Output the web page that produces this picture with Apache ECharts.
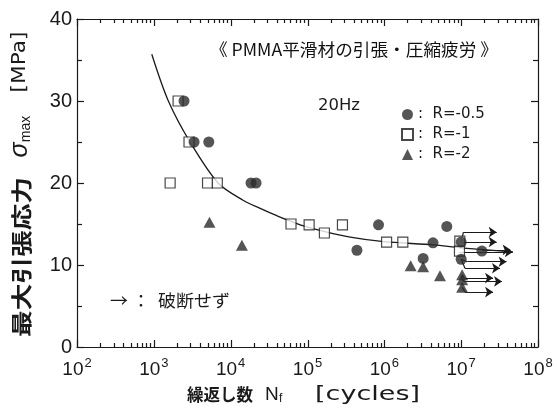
<!DOCTYPE html>
<html>
<head>
<meta charset="utf-8">
<script src="https://cdn.jsdelivr.net/npm/echarts@6/dist/echarts.min.js"></script>
<style>
html, body { margin: 0; padding: 0; background: #fff; }
#chart { width: 557px; height: 414px; }
</style>
</head>
<body>
<div id="chart"></div>
<script>
// Axis ticks
const xTickExponents = [2, 3, 4, 5, 6, 7, 8];
const yTicks = [0, 10, 20, 30, 40];

// R = -0.5 (filled circles): cycles to failure, max stress [MPa]
const circleN = [2470, 5190, 3340, 18400, 21400, 4.4e5, 8.4e5, 4.3e6, 6.5e6, 3.2e6, 1.0e7, 1.0e7, 1.86e7];
const circleS = [30.0, 25.0, 25.0, 20.0, 20.0, 11.8, 14.9, 12.7, 14.7, 10.8, 12.8, 10.7, 11.7];

// R = -1 (open squares)
const squareN = [2070, 2870, 1630, 5000, 6700, 61000, 1.05e5, 1.66e5, 2.85e5, 1.07e6, 1.74e6, 9.5e6, 9.6e6];
const squareS = [30.0, 25.0, 20.0, 20.0, 20.0, 15.0, 14.9, 13.9, 14.9, 12.8, 12.8, 11.7, 12.9];

// R = -2 (filled triangles)
const triN = [5300, 14000, 2.2e6, 3.2e6, 5.3e6, 1.03e7, 1.03e7, 1.03e7];
const triS = [15.2, 12.4, 9.9, 9.8, 8.7, 8.8, 8.2, 7.3];

// Fitted S-N curve
const curveN = [940, 1530, 2960, 6850, 14500, 24200, 40200, 54200, 80100, 1.64e5, 3.6e5, 9.8e5, 4.4e6, 9.8e6, 4.7e7];
const curveS = [35.7, 30.1, 25.0, 20.0, 17.9, 16.9, 16.0, 15.5, 14.9, 14.1, 13.4, 12.85, 12.45, 12.1, 11.6];

// Run-outs (no failure): start point, bend point, arrow tip
const runStartN = [1.0e7, 1.0e7, 9.5e6, 1.86e7, 1.0e7, 1.0e7, 1.03e7, 1.03e7, 1.03e7];
const runStartS = [12.8, 12.8, 11.6, 11.85, 10.7, 10.7, 8.8, 8.2, 7.3];
const runBendN  = [1.07e7, 1.07e7, 1.0e7, 1.9e7, 1.2e7, 1.12e7, 1.1e7, 1.1e7, 1.12e7];
const runLevelS = [14.0, 12.8, 11.6, 11.85, 10.4, 9.6, 8.4, 8.0, 6.7];
const runEndN   = [2.9e7, 2.9e7, 4.7e7, 4.4e7, 3.9e7, 3.2e7, 2.6e7, 3.4e7, 2.6e7];

const INK = '#1a1a1a';
const MARK = '#2b2b2b';
const LATIN = '"Liberation Sans", "DejaVu Sans", sans-serif';

const pairs = (xs, ys) => xs.map((x, i) => [x, ys[i]]);

const xMin = Math.pow(10, xTickExponents[0]);
const xMax = Math.pow(10, xTickExponents[xTickExponents.length - 1]);
const yMin = yTicks[0];
const yMax = yTicks[yTicks.length - 1];

// run-out arrows: short bend from the data point, then a horizontal arrow
const runoutBends = runStartN.map((n, i) => ({ coords: [[n, runStartS[i]], [runBendN[i], runLevelS[i]]] }));
const runoutShafts = runStartN.map((n, i) => ({ coords: [[runBendN[i], runLevelS[i]], [runEndN[i], runLevelS[i]]] }));

// text width helper for stretching labels to their layout span
const measureCtx = document.createElement('canvas').getContext('2d');
function textWidth(text, font) { measureCtx.font = font; return measureCtx.measureText(text).width; }
function fitScale(text, font, width) { return width / textWidth(text, font); }

const chart = echarts.init(document.getElementById('chart'), null, { renderer: 'canvas' });

const titleText = '《 PMMA平滑材の引張・圧縮疲労 》';
const titleFont = '17px "Noto Sans CJK JP"';
const noteText = '→ ：  破断せず';
const noteFont = '17px "Noto Sans CJK JP"';
const hzFont = '16px "DejaVu Sans"';

const yTitleCjkFont = 'bold 21px "Noto Sans CJK JP"';
const yUnitFont = '20px "DejaVu Sans"';
const sigmaFont = 'italic 25px "Liberation Sans"';
const maxFont = '14px "Liberation Sans"';
const xTitleCjkFont = 'bold 17px "Noto Sans CJK JP"';
const xUnitFont = '20px "DejaVu Sans"';

const axisCommon = {
  axisLine: { show: true, onZero: false, lineStyle: { color: INK, width: 1.2 } },
  axisTick: { show: false },
  minorTick: { show: false },
  splitLine: { show: false }
};

const option = {
  animation: false,
  backgroundColor: '#fff',
  grid: { left: 77, right: 19, top: 19, bottom: 67 },
  xAxis: [
    Object.assign({
      type: 'log', logBase: 10, min: xMin, max: xMax, splitNumber: 6,
      axisLabel: {
        margin: 10,
        formatter: v => '{a|10}{b|' + Math.round(Math.log10(v)) + '}',
        rich: {
          a: { fontFamily: LATIN, fontSize: 19, color: INK },
          b: { fontFamily: LATIN, fontSize: 13, color: INK, padding: [0, 0, 12, 1] }
        }
      }
    }, axisCommon),
    Object.assign({
      type: 'log', logBase: 10, min: xMin, max: xMax, splitNumber: 6, position: 'top',
      axisLabel: { show: false }
    }, axisCommon)
  ],
  yAxis: [
    Object.assign({
      type: 'value', min: yMin, max: yMax, interval: yTicks[1] - yTicks[0],
      axisLabel: { margin: 5, fontFamily: LATIN, fontSize: 20, color: INK }
    }, axisCommon),
    Object.assign({
      type: 'value', min: yMin, max: yMax, interval: yTicks[1] - yTicks[0], position: 'right',
      axisLabel: { show: false }
    }, axisCommon)
  ],
  legend: {
    orient: 'vertical', left: 396, top: 102,
    itemWidth: 11, itemHeight: 11, itemGap: 5,
    selectedMode: false,
    data: ['R=-0.5', 'R=-1', 'R=-2'],
    formatter: name => ':  ' + name,
    textStyle: { fontFamily: '"DejaVu Sans"', fontSize: 15, color: INK, lineHeight: 14 }
  },
  series: [
    {
      type: 'line', name: 'curve', data: pairs(curveN, curveS), smooth: 0.3,
      showSymbol: false, symbol: 'none', z: 2,
      lineStyle: { color: INK, width: 1.3 }
    },
    {
      type: 'lines', name: 'runoutBend', coordinateSystem: 'cartesian2d', z: 2,
      symbol: ['none', 'none'],
      lineStyle: { color: INK, width: 1.2, opacity: 1 },
      data: runoutBends
    },
    {
      type: 'lines', name: 'runout', coordinateSystem: 'cartesian2d', z: 2,
      symbol: ['none', 'arrow'], symbolSize: 8,
      lineStyle: { color: INK, width: 1.2, opacity: 1 },
      data: runoutShafts
    },
    {
      type: 'scatter', name: 'R=-1', data: pairs(squareN, squareS),
      symbol: 'rect', symbolSize: 10, z: 3,
      itemStyle: { color: '#fff', borderColor: INK, borderWidth: 1.2 }
    },
    {
      type: 'scatter', name: 'R=-0.5', data: pairs(circleN, circleS),
      symbol: 'circle', symbolSize: 11, z: 4,
      itemStyle: { color: MARK }
    },
    {
      type: 'scatter', name: 'R=-2', data: pairs(triN, triS),
      symbol: 'triangle', symbolSize: [12, 11], z: 4,
      itemStyle: { color: MARK }
    }
  ]
};

chart.setOption(option);

// Inward tick marks on all four frame edges, placed through the chart's own axis scales
const toPx = (n, s) => chart.convertToPixel({ xAxisIndex: 0, yAxisIndex: 0 }, [n, s]);
const tickStyle = { stroke: INK, lineWidth: 1.2 };
const tickLines = [];
function addXTick(v, len) {
  const x = Math.round(toPx(v, yMin)[0]) + 0.5;
  const yb = toPx(v, yMin)[1];
  const yt = toPx(v, yMax)[1];
  tickLines.push({ type: 'line', shape: { x1: x, y1: yb, x2: x, y2: yb - len }, style: tickStyle });
  tickLines.push({ type: 'line', shape: { x1: x, y1: yt, x2: x, y2: yt + len }, style: tickStyle });
}
function addYTick(v, len) {
  const y = Math.round(toPx(xMin, v)[1]) + 0.5;
  const xl = toPx(xMin, v)[0];
  const xr = toPx(xMax, v)[0];
  tickLines.push({ type: 'line', shape: { x1: xl, y1: y, x2: xl + len, y2: y }, style: tickStyle });
  tickLines.push({ type: 'line', shape: { x1: xr, y1: y, x2: xr - len, y2: y }, style: tickStyle });
}
for (let e = xTickExponents[0]; e <= xTickExponents[xTickExponents.length - 1]; e++) {
  addXTick(Math.pow(10, e), 7);
  if (e < xTickExponents[xTickExponents.length - 1]) {
    for (let m = 2; m <= 9; m++) addXTick(m * Math.pow(10, e), 4);
  }
}
yTicks.forEach((v, i) => {
  addYTick(v, 7);
  if (i < yTicks.length - 1) addYTick((v + yTicks[i + 1]) / 2, 5);
});

chart.setOption({
  graphic: [
    { type: 'group', silent: true, z: 10, children: tickLines },
    {
      type: 'text', x: 354, y: 50, scaleX: fitScale(titleText, titleFont, 288),
      style: { text: titleText, font: titleFont, fill: '#111', align: 'center', verticalAlign: 'middle' }
    },
    {
      type: 'text', x: 318, y: 106, scaleX: fitScale('20Hz', hzFont, 42),
      style: { text: '20Hz', font: hzFont, fill: INK, align: 'left', verticalAlign: 'middle' }
    },
    {
      type: 'text', x: 110, y: 301, scaleX: fitScale(noteText, noteFont, 120),
      style: { text: noteText, font: noteFont, fill: INK, align: 'left', verticalAlign: 'middle' }
    },
    // vertical axis title
    {
      type: 'text', x: 21, y: 257, rotation: Math.PI / 2, scaleX: fitScale('最大引張応力', yTitleCjkFont, 160),
      style: { text: '最大引張応力', font: yTitleCjkFont, fill: INK, align: 'center', verticalAlign: 'middle' }
    },
    {
      type: 'text', x: 20, y: 150, rotation: Math.PI / 2,
      style: { text: 'σ', font: sigmaFont, fill: INK, align: 'center', verticalAlign: 'middle' }
    },
    {
      type: 'text', x: 26, y: 129, rotation: Math.PI / 2,
      style: { text: 'max', font: maxFont, fill: INK, align: 'center', verticalAlign: 'middle' }
    },
    {
      type: 'text', x: 20, y: 62, rotation: Math.PI / 2, scaleX: fitScale('[MPa]', yUnitFont, 61),
      style: { text: '[MPa]', font: yUnitFont, fill: INK, align: 'center', verticalAlign: 'middle' }
    },
    // horizontal axis title
    {
      type: 'text', x: 187, y: 395, scaleX: fitScale('繰返し数', xTitleCjkFont, 66),
      style: { text: '繰返し数', font: xTitleCjkFont, fill: INK, align: 'left', verticalAlign: 'middle' }
    },
    {
      type: 'text', x: 265, y: 395,
      style: { text: 'N', font: '19px "Liberation Sans"', fill: INK, align: 'left', verticalAlign: 'middle' }
    },
    {
      type: 'text', x: 279, y: 399,
      style: { text: 'f', font: '12px "Liberation Sans"', fill: INK, align: 'left', verticalAlign: 'middle' }
    },
    {
      type: 'text', x: 315, y: 395, scaleX: fitScale('[cycles]', xUnitFont, 105),
      style: { text: '[cycles]', font: xUnitFont, fill: INK, align: 'left', verticalAlign: 'middle' }
    }
  ]
});
</script>
</body>
</html>
